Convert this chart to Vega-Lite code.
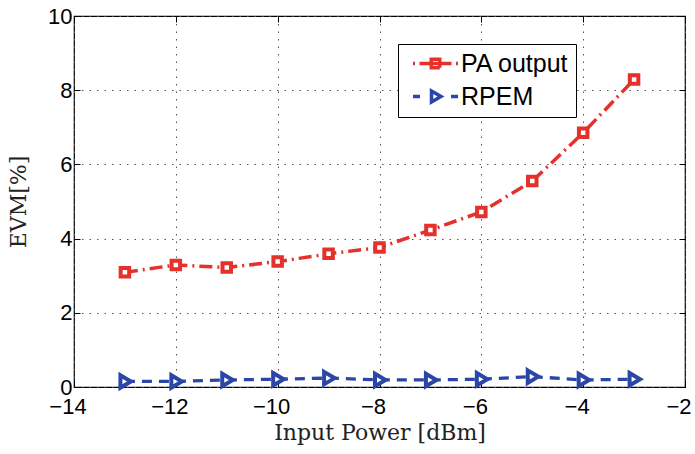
{
  "$schema": "https://vega.github.io/schema/vega-lite/v6.json",
  "width": 611,
  "height": 371,
  "autosize": {"type": "none"},
  "padding": {"left": 74, "top": 16, "right": 10, "bottom": 67},
  "background": "white",
  "config": {
    "view": {"stroke": "black", "strokeWidth": 1.2},
    "axis": {
      "domain": false,
      "tickSize": -6,
      "tickColor": "black",
      "tickWidth": 1,
      "labelFont": "Liberation Sans",
      "labelFontSize": 22,
      "labelColor": "black",
      "labelFlush": false,
      "labelOverlap": false,
      "titleFont": "DejaVu Serif",
      "titleFontSize": 21,
      "titleFontWeight": "normal",
      "titleColor": "#222",
      "gridColor": "#555",
      "gridDash": [1.5, 6],
      "gridOpacity": 1,
      "gridWidth": 1
    }
  },
  "data": {
    "values": [
      {"power": -13, "evm": 3.09, "series": "PA output"},
      {"power": -12, "evm": 3.29, "series": "PA output"},
      {"power": -11, "evm": 3.22, "series": "PA output"},
      {"power": -10, "evm": 3.38, "series": "PA output"},
      {"power": -9, "evm": 3.59, "series": "PA output"},
      {"power": -8, "evm": 3.76, "series": "PA output"},
      {"power": -7, "evm": 4.23, "series": "PA output"},
      {"power": -6, "evm": 4.72, "series": "PA output"},
      {"power": -5, "evm": 5.55, "series": "PA output"},
      {"power": -4, "evm": 6.85, "series": "PA output"},
      {"power": -3, "evm": 8.29, "series": "PA output"},
      {"power": -13, "evm": 0.15, "series": "RPEM"},
      {"power": -12, "evm": 0.15, "series": "RPEM"},
      {"power": -11, "evm": 0.19, "series": "RPEM"},
      {"power": -10, "evm": 0.21, "series": "RPEM"},
      {"power": -9, "evm": 0.24, "series": "RPEM"},
      {"power": -8, "evm": 0.19, "series": "RPEM"},
      {"power": -7, "evm": 0.19, "series": "RPEM"},
      {"power": -6, "evm": 0.21, "series": "RPEM"},
      {"power": -5, "evm": 0.28, "series": "RPEM"},
      {"power": -4, "evm": 0.19, "series": "RPEM"},
      {"power": -3, "evm": 0.21, "series": "RPEM"}
    ]
  },
  "encoding": {
    "color": {
      "field": "series",
      "type": "nominal",
      "scale": {"domain": ["PA output", "RPEM"], "range": ["#e4312b", "#2b46a6"]},
      "legend": {
        "orient": "none",
        "legendX": 324,
        "legendY": 28,
        "title": null,
        "strokeColor": "black",
        "fillColor": "white",
        "padding": 7,
        "labelFont": "Liberation Sans",
        "labelFontSize": 25,
        "labelColor": "black",
        "symbolSize": 100,
        "symbolStrokeWidth": 3.5,
        "symbolFillColor": "white",
        "symbolDash": [1, 0],
        "symbolOpacity": 1,
        "symbolType": {"expr": "datum.value === 'PA output' ? 'M-4.5,0H-4.1M-3.2,0H3.2M4.1,0H4.5M-0.85,-0.85H0.85V0.85H-0.85Z' : 'M-4.5,0H-3.1M3.1,0H4.5M-0.8,-1.1L1.1,0L-0.8,1.1Z'"},
        "rowPadding": 7,
        "symbolOffset": 18,
        "labelOffset": 13
      }
    }
  },
  "layer": [
    {
      "transform": [{"filter": "datum.series === 'PA output'"}],
      "mark": {"type": "line", "strokeWidth": 3.5, "strokeDash": [13, 5, 2, 5]},
      "encoding": {
        "x": {
          "field": "power", "type": "quantitative",
          "scale": {"domain": [-14, -2], "nice": false},
          "axis": {"orient": "bottom", "grid": true, "values": [-14, -12, -10, -8, -6, -4, -2], "title": "Input Power [dBm]", "titleFontSize": 22, "labelPadding": 15, "labelOffset": -6.5, "titlePadding": 5}
        },
        "y": {
          "field": "evm", "type": "quantitative",
          "scale": {"domain": [0, 10], "nice": false},
          "axis": {"orient": "left", "grid": true, "values": [0, 2, 4, 6, 8, 10], "title": "EVM[%]", "titleFontSize": 22, "labelPadding": 8, "titlePadding": 17}
        }
      }
    },
    {
      "transform": [{"filter": "datum.series === 'RPEM'"}],
      "mark": {"type": "line", "strokeWidth": 3.3, "strokeDash": [10, 7]},
      "encoding": {
        "x": {"field": "power", "type": "quantitative", "axis": null},
        "y": {"field": "evm", "type": "quantitative", "axis": null}
      }
    },
    {
      "transform": [{"filter": "datum.series === 'PA output'"}],
      "mark": {"type": "point", "filled": false, "fill": "white", "fillOpacity": 1, "opacity": 1, "strokeWidth": 4, "size": 100, "shape": "M-0.85,-0.85H0.85V0.85H-0.85Z"},
      "encoding": {
        "x": {"field": "power", "type": "quantitative", "axis": null},
        "y": {"field": "evm", "type": "quantitative", "axis": null}
      }
    },
    {
      "transform": [{"filter": "datum.series === 'RPEM'"}],
      "mark": {"type": "point", "filled": false, "fill": "white", "fillOpacity": 1, "opacity": 1, "strokeWidth": 4, "size": 100, "shape": "M-0.9,-1.25L1.2,0L-0.9,1.25Z"},
      "encoding": {
        "x": {
          "field": "power", "type": "quantitative",
          "axis": {"orient": "top", "grid": false, "labels": false, "title": null, "values": [-14, -12, -10, -8, -6, -4, -2]}
        },
        "y": {
          "field": "evm", "type": "quantitative",
          "axis": {"orient": "right", "grid": false, "labels": false, "title": null, "values": [0, 2, 4, 6, 8, 10]}
        }
      }
    }
  ],
  "resolve": {"axis": {"x": "independent", "y": "independent"}}
}
